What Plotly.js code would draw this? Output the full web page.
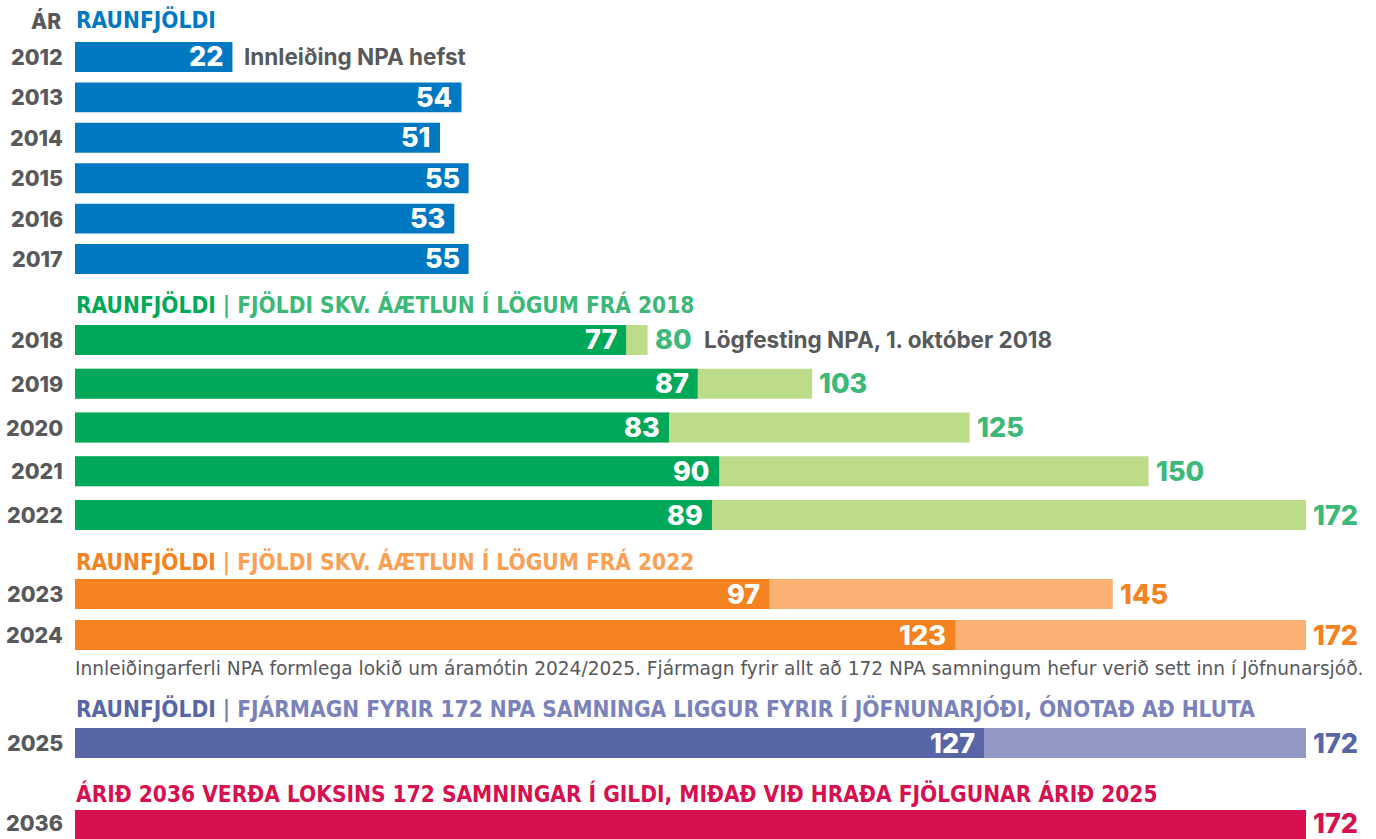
<!DOCTYPE html>
<html><head><meta charset="utf-8">
<script src="https://cdn.plot.ly/plotly-3.0.1.min.js"></script>
<style>html,body{margin:0;padding:0;background:#fff;}#chart{width:1376px;height:839px;}</style>
</head><body><div id="chart"></div>
<script>
// ---- data ----
const years1 = ['2012','2013','2014','2015','2016','2017'];
const actual1 = [22,54,51,55,53,55];
const years2 = ['2018','2019','2020','2021','2022'];
const actual2 = [77,87,83,90,89];
const plan2 = [80,103,125,150,172];
const years3 = ['2023','2024'];
const actual3 = [97,123];
const plan3 = [145,172];
const years4 = ['2025'];
const actual4 = [127];
const plan4 = [172];
const years5 = ['2036'];
const plan5 = [172];

const headerMain = ['RAUNFJÖLDI','RAUNFJÖLDI','RAUNFJÖLDI','RAUNFJÖLDI','ÁRIÐ 2036 VERÐA LOKSINS 172 SAMNINGAR Í GILDI, MIÐAÐ VIÐ HRAÐA FJÖLGUNAR ÁRIÐ 2025'];
const headerSub = ['', 'FJÖLDI SKV. ÁÆTLUN Í LÖGUM FRÁ 2018', 'FJÖLDI SKV. ÁÆTLUN Í LÖGUM FRÁ 2022', 'FJÁRMAGN FYRIR 172 NPA SAMNINGA LIGGUR FYRIR Í JÖFNUNARJÓÐI, ÓNOTAÐ AÐ HLUTA', ''];
const yearHeader = 'ÁR';
const note2012 = 'Innleiðing NPA hefst';
const note2018 = 'Lögfesting NPA, 1. október 2018';
const noteFooter = 'Innleiðingarferli NPA formlega lokið um áramótin 2024/2025. Fjármagn fyrir allt að 172 NPA samningum hefur verið sett inn í Jöfnunarsjóð.';

// ---- styling ----
const W = 1376, H = 839;
const gray = '#58595b';
const C = {
  blue:   {dark:'#0079c2', light:'#0079c2', lab:'#0079c2', sub:'#0079c2'},
  green:  {dark:'#00a859', light:'#bcdc8a', lab:'#3cb878', sub:'#3cb878'},
  orange: {dark:'#f58220', light:'#f9b072', lab:'#f58220', sub:'#f9a055'},
  purple: {dark:'#5866a8', light:'#9198c6', lab:'#5866a8', sub:'#7a82bb'},
  red:    {dark:'#d7104f', light:'#d7104f', lab:'#d7104f', sub:'#d7104f'}
};
const FONT = 'Inter, "Open Sans", sans-serif';
const COND = '"Liberation Sans Narrow", "DejaVu Sans Condensed", "Roboto Condensed", sans-serif';
const pxY = p => 1 - p / H;
const dom = (top, bottom) => [pxY(bottom), pxY(top)];

const groups = [
  {ax:'y',  years:years1, actual:actual1, plan:null,  col:C.blue,   dom:dom(36.8,279.2), width:0.74, header:20},
  {ax:'y2', years:years2, actual:actual2, plan:plan2, col:C.green,  dom:dom(318.1,536.9), width:0.686, header:305},
  {ax:'y3', years:years3, actual:actual3, plan:plan3, col:C.orange, dom:dom(573.5,655.5), width:0.73, header:562},
  {ax:'y4', years:years4, actual:actual4, plan:plan4, col:C.purple, dom:dom(723,763), width:0.75, header:709},
  {ax:'y5', years:years5, actual:null,    plan:plan5, col:C.red,    dom:dom(805,839), width:0.75, header:793, range:[0.35,-0.5]}
];

const data = [];
const annotations = [];
const layout = {
  width: W, height: H,
  margin: {l:0, r:0, t:0, b:0},
  paper_bgcolor:'#fff', plot_bgcolor:'rgba(0,0,0,0)',
  barmode:'overlay', showlegend:false,
  xaxis: {range:[-75*172/1231, (W-75)*172/1231], visible:false, fixedrange:true},
  font: {family: FONT, color: gray},
  annotations: annotations
};

annotations.push({xref:'paper', yref:'paper', x:63/W, y:pxY(21), xanchor:'right', yanchor:'middle',
  text:yearHeader, showarrow:false, font:{family:FONT, size:21, color:gray, weight:800}});

groups.forEach((g, i) => {
  const axName = g.ax === 'y' ? 'yaxis' : 'yaxis' + g.ax.slice(1);
  const n = g.years.length;
  layout[axName] = {
    type:'category', categoryarray:g.years, categoryorder:'array',
    domain:g.dom, range: g.range || [n - 0.5, -0.5],
    visible:false, fixedrange:true, anchor:'x'
  };
  const last = i === groups.length - 1;
  if (g.plan) {
    data.push({type:'bar', orientation:'h', y:g.years, x:g.plan, yaxis:g.ax, xaxis:'x',
      width:g.width, marker:{color: g.actual ? g.col.light : g.col.dark}, hoverinfo:'x'});
    g.plan.forEach((v, k) => annotations.push({xref:'x', yref:g.ax, x:v, y:k,
      xanchor:'left', yanchor:'middle', xshift:5, yshift: last ? 2 : 0, showarrow:false, text:String(v),
      font:{family:FONT, size:27, color:g.col.lab, weight:800}}));
  }
  if (g.actual) {
    data.push({type:'bar', orientation:'h', y:g.years, x:g.actual, yaxis:g.ax, xaxis:'x',
      width:g.width, marker:{color:g.col.dark}, hoverinfo:'x'});
    g.actual.forEach((v, k) => annotations.push({xref:'x', yref:g.ax, x:v, y:k,
      xanchor:'right', yanchor:'middle', xshift:-7, showarrow:false, text:String(v),
      font:{family:FONT, size:27, color:'#ffffff', weight:800}}));
  }
  g.years.forEach((yr, k) => annotations.push({xref:'paper', yref:g.ax, x:65/W, y:k,
    xanchor:'right', yanchor:'middle', yshift: last ? 2 : 0, showarrow:false, text:yr,
    font:{family:FONT, size:21.5, color:gray, weight:800}}));
  const sub = headerSub[i] ? ' <span style="color:' + g.col.sub + '">| ' + headerSub[i] + '</span>' : '';
  annotations.push({xref:'paper', yref:'paper', x:74/W, y:pxY(g.header), xanchor:'left', yanchor:'middle',
    showarrow:false, text:'<b>' + headerMain[i] + sub + '</b>',
    font:{family:COND, size:22.5, color:g.col.dark}});
});

annotations.push({xref:'x', yref:'y', x:actual1[0], y:0, xanchor:'left', yanchor:'middle',
  xshift:10, showarrow:false, text:note2012, font:{family:FONT, size:22.5, color:gray, weight:700}});
annotations.push({xref:'x', yref:'y2', x:plan2[0], y:0, xanchor:'left', yanchor:'middle',
  xshift:54, showarrow:false, text:note2018, font:{family:FONT, size:22.5, color:gray, weight:700}});
annotations.push({xref:'paper', yref:'paper', x:73/W, y:pxY(668), xanchor:'left', yanchor:'middle',
  showarrow:false, text:noteFooter, font:{family:'"DejaVu Sans", sans-serif', size:18.6, color:gray, weight:400}});

Plotly.newPlot('chart', data, layout, {staticPlot:true, displayModeBar:false});
</script></body></html>
